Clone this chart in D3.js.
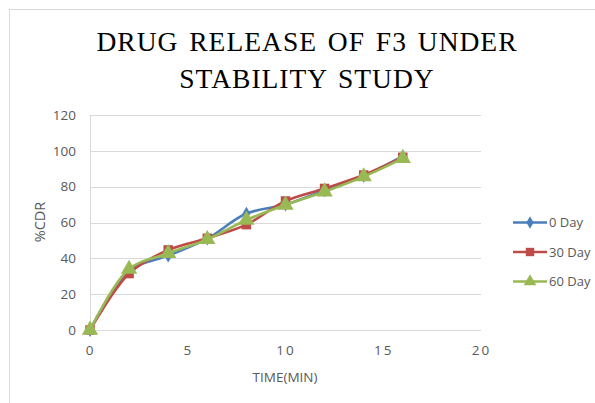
<!DOCTYPE html>
<html><head><meta charset="utf-8">
<script src="https://cdn.jsdelivr.net/npm/d3@7"></script>
<style>body{margin:0;background:#fff}svg{display:block}</style>
</head><body>
<svg id="c" width="595" height="403"></svg>
<script>
const times = [0, 2, 4, 6, 8, 10, 12, 14, 16];
const day0 = [0, 33, 41.5, 51, 65, 70, 78, 86, 97];
const day30 = [0, 31.5, 44.7, 51.2, 58.8, 72, 79, 86.5, 96.4];
const day60 = [0, 34, 42.8, 50.6, 61.4, 69.8, 77.2, 85.6, 95.8];
const seriesNames = ["0 Day", "30 Day", "60 Day"];
const xTicks = [0, 5, 10, 15, 20];
const yTicks = [0, 20, 40, 60, 80, 100, 120];
const titleLines = ["DRUG RELEASE OF F3 UNDER", "STABILITY STUDY"];

const colors = ["#4A7EBB", "#BE4B48", "#98B954"];
const series = [day0, day30, day60];

const svg = d3.select("#c");
svg.append("rect").attr("x", 9.5).attr("y", 9.5).attr("width", 600).attr("height", 400)
  .attr("fill", "#fff").attr("stroke", "#D9D9D9").attr("stroke-width", 1);

const x = d3.scaleLinear().domain([0, 20]).range([90, 481]);
const y = d3.scaleLinear().domain([0, 120]).range([330, 115]);

// gridlines
svg.append("g").selectAll("line").data(yTicks).join("line")
  .attr("x1", x(0)).attr("x2", x(20))
  .attr("y1", d => Math.round(y(d)) + 0.5).attr("y2", d => Math.round(y(d)) + 0.5)
  .attr("stroke", "#D9D9D9");
svg.append("line").attr("x1", x(0) + 0.5).attr("x2", x(0) + 0.5)
  .attr("y1", y(120)).attr("y2", y(0)).attr("stroke", "#D9D9D9");

// axes labels
const yAxis = d3.axisLeft(y).tickValues(yTicks).tickSize(0).tickPadding(14);
const gy = svg.append("g").attr("transform", `translate(${x(0)},0)`).call(yAxis);
gy.select(".domain").remove();
gy.selectAll("text").attr("fill", "#595959").style("font", "13.5px 'Open Sans', sans-serif");

const xAxis = d3.axisBottom(x).tickValues(xTicks).tickSize(0).tickPadding(15);
const gx = svg.append("g").attr("transform", `translate(0,${y(0)})`).call(xAxis);
gx.select(".domain").remove();
gx.selectAll("text").attr("fill", "#595959").attr("letter-spacing", "2px")
  .style("font", "13.5px 'Open Sans', sans-serif");

svg.append("text").attr("x", 285).attr("y", 382).attr("text-anchor", "middle")
  .attr("fill", "#595959").style("font", "13.5px 'Open Sans', sans-serif").text("TIME(MIN)");
svg.append("text").attr("transform", "translate(45,222) rotate(-90)").attr("text-anchor", "middle")
  .attr("fill", "#595959").style("font", "14.5px 'Open Sans', sans-serif").text("%CDR");

// title
svg.append("g").selectAll("text").data(titleLines).join("text")
  .attr("x", 307).attr("y", (d, i) => 51 + i * 37).attr("text-anchor", "middle")
  .attr("letter-spacing", "1px").attr("word-spacing", "3px")
  .style("font", "27.5px 'Liberation Serif', serif").attr("fill", "#000").text(d => d);

// lines
const line = d3.line().x((d, i) => x(times[i])).y(d => y(d)).curve(d3.curveCatmullRom.alpha(0.5));
const symbols = [d3.symbolDiamond, d3.symbolSquare, d3.symbolTriangle];
const sizes = [55, 90, 115];
series.forEach((s, k) => {
  svg.append("path").datum(s).attr("d", line).attr("fill", "none")
    .attr("stroke", colors[k]).attr("stroke-width", 2.6).attr("stroke-linejoin", "round");
  svg.append("g").selectAll("path").data(s).join("path")
    .attr("transform", (d, i) => `translate(${x(times[i])},${y(d)})`)
    .attr("d", d3.symbol().type(symbols[k]).size(sizes[k])).attr("fill", colors[k]);
});

// legend
const ly = [222.5, 252, 281.5];
const lsizes = [45, 70, 70];
seriesNames.forEach((n, k) => {
  const g = svg.append("g").attr("transform", `translate(0,${ly[k]})`);
  g.append("line").attr("x1", 513).attr("x2", 547).attr("stroke", colors[k]).attr("stroke-width", 2.6);
  g.append("path").attr("transform", "translate(530,0)")
    .attr("d", d3.symbol().type(symbols[k]).size(lsizes[k])).attr("fill", colors[k]);
  g.append("text").attr("x", 549).attr("y", 4.5).attr("fill", "#595959")
    .style("font", "13px 'Open Sans', sans-serif").text(n);
});
</script>
</body></html>
